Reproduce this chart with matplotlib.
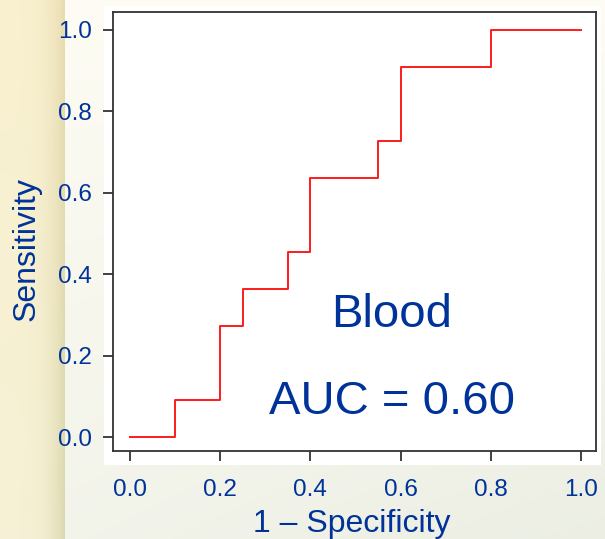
import numpy as np
import matplotlib
matplotlib.use("Agg")
import matplotlib.pyplot as plt
from matplotlib.patches import Rectangle

plt.rcParams['font.family'] = ['Liberation Sans', 'DejaVu Sans']

# ROC step curve data (1 - specificity, sensitivity)
fpr = [0.0, 0.1, 0.1, 0.2, 0.2, 0.25, 0.25, 0.35, 0.35, 0.4, 0.4, 0.55, 0.55, 0.6, 0.6, 0.8, 0.8, 1.0]
tpr = [0.0, 0.0, 0.0909, 0.0909, 0.2727, 0.2727, 0.3636, 0.3636, 0.4545, 0.4545,
       0.6364, 0.6364, 0.7273, 0.7273, 0.9091, 0.9091, 1.0, 1.0]
xticks = [0.0, 0.2, 0.4, 0.6, 0.8, 1.0]
yticks = [0.0, 0.2, 0.4, 0.6, 0.8, 1.0]
tick_labels = ["0.0", "0.2", "0.4", "0.6", "0.8", "1.0"]
label_name = "Blood"
label_auc = "AUC = 0.60"

W, H = 605, 539
fig = plt.figure(figsize=(W / 100, H / 100), dpi=100)

# background gradient
xs = np.linspace(0, 1, W)[None, :]
ys = np.linspace(0, 1, H)[:, None]
img = np.zeros((H, W, 3))
right_top = np.array([0.995, 0.988, 0.955])
right_bot = np.array([0.925, 0.935, 0.895])
t = np.clip(0.6 * ys + 0.4 * xs * ys, 0, 1)[..., None]
img[:] = right_top * (1 - t) + right_bot * t
band = 65
bx = np.linspace(0, 1, band)[None, :, None]
left_light = np.array([0.975, 0.942, 0.810])
left_dark_top = np.array([0.910, 0.860, 0.690])
left_dark_bot = np.array([0.860, 0.850, 0.690])
ysb = ys[..., None]
dark = left_dark_top * (1 - ysb) + left_dark_bot * ysb
light = left_light * (1 - 0.5 * ysb) + np.array([0.955, 0.950, 0.870]) * 0.5 * ysb
wgt = bx ** 4
img[:, :band] = light * (1 - wgt) + dark * wgt
bg = fig.add_axes([0, 0, 1, 1], zorder=0)
bg.imshow(img, aspect='auto', extent=[0, 1, 0, 1], origin='upper', zorder=0)
# white plotting region
bg.add_patch(Rectangle((104 / W, 1 - 465 / H), (601 - 104) / W, (465 - 6) / H,
                       transform=bg.transAxes, facecolor='white',
                       edgecolor='none', zorder=1))
bg.set_xlim(0, 1)
bg.set_ylim(0, 1)
bg.set_axis_off()

blue = '#003399'
ax = fig.add_axes([113 / W, 1 - 451 / H, (596 - 113) / W, (451 - 12) / H], zorder=2)
ax.set_facecolor('white')
ax.plot(fpr, tpr, color='#ff1a1a', lw=1.4)
ax.set_xlim(-0.037, 1.033)
ax.set_ylim(-0.034, 1.044)
ax.set_xticks(xticks)
ax.set_xticklabels(tick_labels)
ax.set_yticks(yticks)
ax.set_yticklabels(tick_labels)
for s in ax.spines.values():
    s.set_color('#333333')
    s.set_linewidth(1.3)
ax.tick_params(axis='both', direction='out', length=7, width=1.3, color='#333333',
               labelsize=17.5, labelcolor=blue)
ax.tick_params(axis='x', pad=13)
ax.tick_params(axis='y', pad=8)

ax.set_xlabel("1 \u2013 Specificity", fontsize=23, color=blue)
ax.xaxis.set_label_coords(0.495, (451 - 532) / 439)
ax.xaxis.label.set_va('baseline')
ax.set_ylabel("Sensitivity", fontsize=23, color=blue)
ax.yaxis.set_label_coords((42 - 113) / 483, (451 - 249) / 439)

ax.text(0.58, 0.30, label_name, fontsize=34, color=blue, ha='center', va='center')
ax.text(0.58, 0.087, label_auc, fontsize=34, color=blue, ha='center', va='center')

fig.savefig("out.png", dpi=100)
